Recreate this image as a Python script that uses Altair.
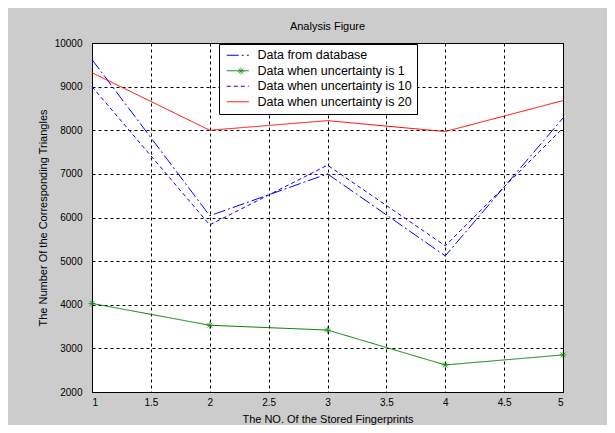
import altair as alt
import pandas as pd

x_vals = [1, 2, 3, 4, 5]
series_names = [
    "Data from database",
    "Data when uncertainty is 1",
    "Data when uncertainty is 10",
    "Data when uncertainty is 20",
]
database = [9620, 6040, 7000, 5120, 8280]
unc1 = [4030, 3530, 3420, 2620, 2850]
unc10 = [9000, 5830, 7200, 5350, 8050]
unc20 = [9320, 8000, 8220, 7970, 8680]

x_ticks = [1, 1.5, 2, 2.5, 3, 3.5, 4, 4.5, 5]
y_ticks = [2000, 3000, 4000, 5000, 6000, 7000, 8000, 9000, 10000]

colors = ["#0000ff", "#008000", "#0000ff", "#ff0000"]
dashes = [[12, 3, 2, 3], [1, 0], [4, 3], [1, 0]]

rows = []
for name, vals in zip(series_names, [database, unc1, unc10, unc20]):
    for xv, yv in zip(x_vals, vals):
        rows.append({"x": xv, "y": yv, "series": name, "marker": "star"})
df = pd.DataFrame(rows)

FONT = "Liberation Sans"
STAR = "M0,-1V1M-1,0H1M-0.7,-0.7L0.7,0.7M-0.7,0.7L0.7,-0.7"


def main_legend():
    return alt.Legend(
        title=None, orient="none", legendX=127, legendY=1,
        symbolType="M-2,0H2", symbolSize=121, symbolStrokeWidth=1,
        symbolOffset=7.5,
        labelFontSize=12.5, labelFont=FONT, labelColor="black",
        labelExpr="datum.label + '  '",
        labelOffset=13.5, rowPadding=2.5, padding=5,
        fillColor="white", strokeColor="black", cornerRadius=0,
    )


x_enc = alt.X(
    "x:Q",
    scale=alt.Scale(domain=[1, 5], nice=False, zero=False),
    axis=alt.Axis(
        values=x_ticks, format="~g", title="The NO. Of the Stored Fingerprints",
        grid=True, ticks=False, labelPadding=5, titlePadding=6,
    ),
)
y_enc = alt.Y(
    "y:Q",
    scale=alt.Scale(domain=[2000, 10000], nice=False, zero=False),
    axis=alt.Axis(
        values=y_ticks, format="d", title="The Number Of the Corresponding Triangles",
        grid=True, ticks=False, labelPadding=10, titlePadding=6,
    ),
)

lines = alt.Chart(df).mark_line(strokeWidth=1, clip=True).encode(
    x=x_enc,
    y=y_enc,
    color=alt.Color(
        "series:N",
        scale=alt.Scale(domain=series_names, range=colors),
        legend=main_legend(),
    ),
    strokeDash=alt.StrokeDash(
        "series:N",
        scale=alt.Scale(domain=series_names, range=dashes),
        legend=main_legend(),
    ),
)

points = alt.Chart(df).transform_filter(
    alt.datum.series == "Data when uncertainty is 1"
).mark_point(filled=False, strokeWidth=1, size=49, color="#008000").encode(
    x=alt.X("x:Q"),
    y=alt.Y("y:Q"),
    shape=alt.Shape(
        "marker:N",
        scale=alt.Scale(domain=["star"], range=[STAR]),
        legend=alt.Legend(
            title=None, orient="none", legendX=145, legendY=24,
            symbolSize=49, symbolStrokeColor="#008000", symbolStrokeWidth=1,
            symbolFillColor="transparent",
            labelExpr="''", labelFontSize=1, padding=0,
        ),
    ),
)

chart = alt.layer(lines, points).properties(
    width=471,
    height=349,
    autosize=alt.AutoSizeParams(type="none"),
    padding={"left": 84, "top": 35, "right": 44, "bottom": 33},
    background="#cccccc",
    title=alt.Title(
        "Analysis Figure", fontSize=11, fontWeight="normal", font=FONT,
        color="black", offset=6, anchor="middle",
    ),
).configure_view(
    fill="white", stroke="black", strokeWidth=1,
).configure_axis(
    labelFont=FONT, labelFontSize=10, labelColor="black",
    titleFont=FONT, titleFontSize=11, titleFontWeight="normal", titleColor="black",
    domainColor="black", domainWidth=1,
    gridColor="black", gridOpacity=1, gridDash=[3, 3], gridWidth=1,
)

chart.save("out.html", embed_options={"renderer": "svg", "actions": False})
